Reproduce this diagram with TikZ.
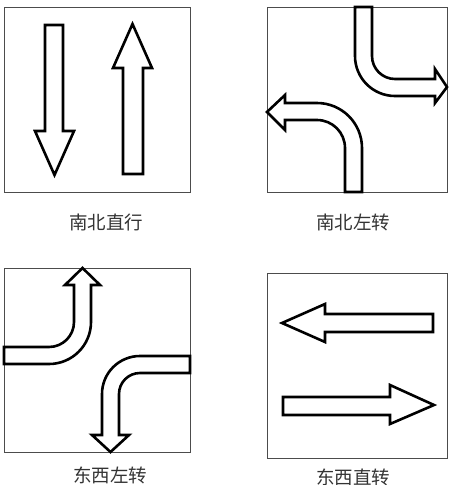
\documentclass[tikz,border=0pt]{standalone}
\usepackage{fontspec}
\newfontfamily\cjk{Noto Sans CJK SC}
\begin{document}
\begin{tikzpicture}[x=1pt,y=-1pt,
    panel/.style={draw=black!70,line width=0.9pt},
    lane/.style={draw=black,line width=2.6pt,line join=miter,fill=white},
    caption/.style={font=\cjk\fontsize{18.5}{18.5}\selectfont,text=black!80}]
  \useasboundingbox (0,0) rectangle (449,485);

  % panels
  \draw[panel] (4,7) rectangle (190,192);
  \draw[panel] (267,7) rectangle (447,192);
  \draw[panel] (4,268) rectangle (190,452);
  \draw[panel] (267,273) rectangle (447,458);

  % north-south straight
  \draw[lane] (45,25) -- (45,131) -- (35,131) -- (54.5,175) -- (74,131)
    -- (63,131) -- (63,25) -- cycle;
  \draw[lane] (123,174) -- (123,68) -- (113,68) -- (132.5,24) -- (152,68)
    -- (143,68) -- (143,174) -- cycle;

  % north-south left turn
  \draw[lane] (355,7) -- (355,56) arc[start angle=180,end angle=90,radius=40]
    -- (435,96) -- (435,103) -- (447,87) -- (435,69) -- (435,79) -- (395,79)
    arc[start angle=90,end angle=180,radius=23] -- (372,7) -- cycle;
  \draw[lane] (345,192) -- (345,148) arc[start angle=0,end angle=-90,radius=28]
    -- (285,120) -- (285,130) -- (267,112) -- (285,95) -- (285,103) -- (317,103)
    arc[start angle=-90,end angle=0,radius=45] -- (362,192) -- cycle;

  % east-west left turn
  \draw[lane] (4,347) -- (49,347) arc[start angle=90,end angle=0,radius=25]
    -- (74,285) -- (65,285) -- (82.5,268) -- (100,285) -- (91,285) -- (91,322)
    arc[start angle=0,end angle=90,radius=42] -- (4,364) -- cycle;
  \draw[lane] (190,356) -- (140,356) arc[start angle=-90,end angle=-180,radius=38]
    -- (102,435) -- (92,435) -- (110.5,452) -- (129,435) -- (119,435) -- (119,394)
    arc[start angle=180,end angle=270,radius=21] -- (190,373) -- cycle;

  % east-west straight
  \draw[lane] (433,314) -- (325,314) -- (325,304) -- (282,323) -- (325,342)
    -- (325,332) -- (433,332) -- cycle;
  \draw[lane] (283,397) -- (390,397) -- (390,385) -- (434,405) -- (390,424)
    -- (390,415) -- (283,415) -- cycle;

  % captions
  \node[caption] (c1) at (106,222) {南北直行};
  \node[caption] (c2) at (353,222) {南北左转};
  \node[caption] (c3) at (110,475) {东西左转};
  \node[caption] (c4) at (353,477) {东西直转};
\end{tikzpicture}
\end{document}
